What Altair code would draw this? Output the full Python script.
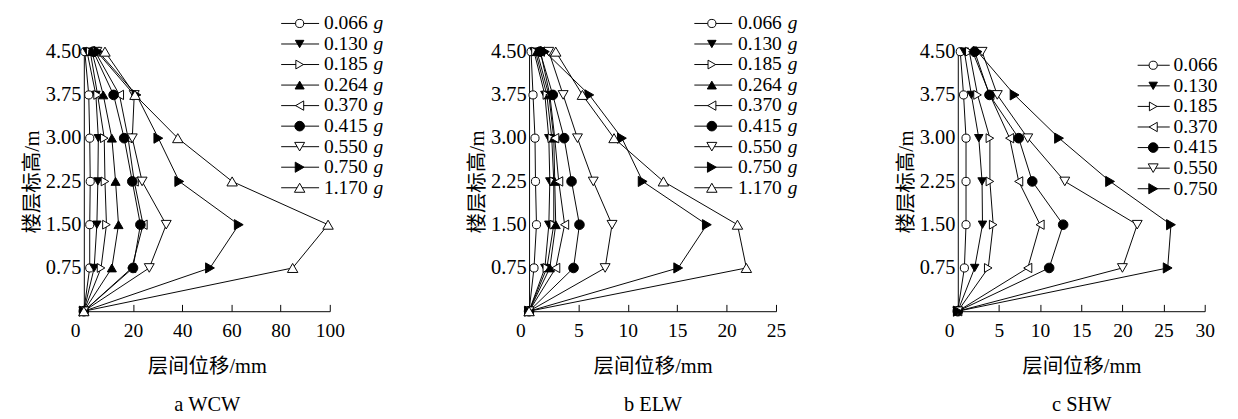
import altair as alt
import pandas as pd

# ---------------- data ----------------
HEIGHTS = [0, 0.75, 1.50, 2.25, 3.00, 3.75, 4.50]

LEVELS_AB = ["0.066", "0.130", "0.185", "0.264", "0.370", "0.415", "0.550", "0.750", "1.170"]
LEVELS_C = ["0.066", "0.130", "0.185", "0.370", "0.415", "0.550", "0.750"]

# displacement (mm) at HEIGHTS, per PGA level
WCW = {
    "0.066": [0, 2.4, 2.4, 2.6, 2.4, 2.0, 0.4],
    "0.130": [0, 4.2, 5.3, 5.7, 5.9, 4.9, 1.3],
    "0.185": [0, 7.0, 9.2, 8.6, 8.3, 5.6, 2.6],
    "0.264": [0, 11.4, 14.1, 12.9, 11.4, 7.9, 3.3],
    "0.370": [0, 19.5, 24.1, 20.5, 18.0, 14.5, 4.6],
    "0.415": [0, 20.0, 23.0, 19.7, 16.4, 12.1, 3.9],
    "0.550": [0, 26.6, 33.5, 23.7, 19.7, 20.5, 5.3],
    "0.750": [0, 51.3, 63.0, 38.8, 30.3, 21.4, 5.9],
    "1.170": [0, 84.9, 99.3, 60.3, 38.2, 20.8, 8.6],
}
ELW = {
    "0.066": [0, 0.5, 0.75, 0.65, 0.6, 0.4, 0.2],
    "0.130": [0, 1.6, 2.0, 2.1, 2.0, 1.6, 0.5],
    "0.185": [0, 1.8, 2.5, 2.5, 2.3, 1.8, 0.65],
    "0.264": [0, 2.1, 2.7, 2.6, 2.5, 2.0, 0.8],
    "0.370": [0, 2.7, 3.6, 3.0, 2.6, 2.1, 1.15],
    "0.415": [0, 4.5, 5.1, 4.3, 3.55, 2.4, 1.1],
    "0.550": [0, 7.7, 8.4, 6.5, 4.9, 3.45, 2.0],
    "0.750": [0, 15.1, 18.0, 11.5, 9.4, 6.1, 1.6],
    "1.170": [0, 22.0, 21.1, 13.6, 8.6, 5.4, 2.7],
}
SHW = {
    "0.066": [0, 0.8, 1.0, 1.0, 1.0, 0.7, 0.3],
    "0.130": [0, 2.05, 3.0, 2.95, 2.55, 1.65, 0.8],
    "0.185": [0, 3.7, 4.3, 3.9, 3.9, 2.4, 1.4],
    "0.370": [0, 8.5, 10.0, 7.4, 6.3, 3.9, 1.8],
    "0.415": [0, 11.1, 12.8, 9.05, 7.4, 3.85, 2.05],
    "0.550": [0, 20.0, 21.8, 13.0, 8.5, 4.8, 2.95],
    "0.750": [0, 25.5, 25.9, 18.5, 12.3, 6.9, 2.4],
}

Y_TICKS = [0.75, 1.50, 2.25, 3.00, 3.75, 4.50]

# ---------------- styles ----------------
SHAPES = {"0.066": "circle", "0.130": "triangle-down", "0.185": "triangle-right",
          "0.264": "triangle-up", "0.370": "triangle-left", "0.415": "circle",
          "0.550": "triangle-down", "0.750": "triangle-right", "1.170": "triangle-up"}
FILLS = {"0.066": "white", "0.130": "black", "0.185": "white", "0.264": "black",
         "0.370": "white", "0.415": "black", "0.550": "white", "0.750": "black",
         "1.170": "white"}
SIZES = {k: (70 if v == "circle" else 115) for k, v in SHAPES.items()}

FONT = "Liberation Serif, Noto Sans CJK SC"
PLOT_H = 267


def long_df(d, levels):
    rows = []
    for lv in levels:
        for h, v in zip(HEIGHTS, d[lv]):
            rows.append({"series": lv, "h": h, "disp": v})
    return pd.DataFrame(rows)


def panel(data, levels, xmax, xstep, caption, plot_w, view_w, leg_range, leg_x, show_g):
    df = long_df(data, levels)
    leg_df = pd.DataFrame({"series": levels, "idx": list(range(len(levels)))})

    shape_enc = alt.Shape("series:N", scale=alt.Scale(domain=levels, range=[SHAPES[l] for l in levels]), legend=None)
    fill_enc = alt.Fill("series:N", scale=alt.Scale(domain=levels, range=[FILLS[l] for l in levels]), legend=None)
    size_enc = alt.Size("series:O", scale=alt.Scale(domain=levels, range=[SIZES[l] for l in levels]), legend=None)

    x_axis = alt.Axis(
        values=list(range(0, xmax + 1, xstep)), labelFlush=False,
        labelFont=FONT, labelFontSize=20, labelColor="black",
        labelAlign={"condition": {"test": "datum.value == 0", "value": "right"}, "value": "center"},
        labelOffset={"condition": {"test": "datum.value == 0", "value": -4}, "value": 0},
        labelPadding=17,
        tickSize=alt.ExprRef(expr="-7"), tickColor="black", tickWidth=1,
        domainColor="black", domainWidth=1, grid=False,
        title=["层间位移/mm", caption], titleFont=FONT, titleFontSize=21,
        titleFontWeight="normal", titleColor="black", titleLineHeight=39,
        titlePadding=16,
    )
    x_enc = alt.X("disp:Q", scale=alt.Scale(domain=[0, xmax], range=[0, plot_w], nice=False), axis=x_axis)
    y_axis = alt.Axis(
        values=Y_TICKS, format=".2f", ticks=False, labelPadding=3,
        labelFont=FONT, labelFontSize=21, labelColor="black",
        domainColor="black", domainWidth=1, grid=False,
        title="楼层标高/m", titleFont=FONT, titleFontSize=21, titleFontWeight="normal",
        titleColor="black", titlePadding=3,
    )
    y_enc = alt.Y("h:Q", scale=alt.Scale(domain=[0, 4.5], nice=False), axis=y_axis)
    y_plain = alt.Y("h:Q", scale=alt.Scale(domain=[0, 4.5], nice=False), axis=None)

    lines = alt.Chart(df).mark_line(color="black", strokeWidth=1).encode(
        x=x_enc, y=y_enc, detail="series:N", order="h:Q")
    pts = alt.Chart(df).mark_point(filled=True, stroke="black", strokeWidth=1, opacity=1).encode(
        x=x_enc, y=y_plain, shape=shape_enc, fill=fill_enc, size=size_enc)

    ly = alt.Y("idx:Q", scale=alt.Scale(domain=[0, len(levels) - 1], range=list(leg_range), nice=False, zero=False), axis=None)
    lx0, lx1, lm, lt = leg_x
    leg_line = alt.Chart(leg_df).mark_rule(color="black", strokeWidth=1).encode(
        x=alt.value(lx0), x2=alt.value(lx1), y=ly)
    leg_pts = alt.Chart(leg_df).mark_point(filled=True, stroke="black", strokeWidth=1, opacity=1).encode(
        x=alt.value(lm), y=ly, shape=shape_enc, fill=fill_enc, size=size_enc)
    leg_txt = alt.Chart(leg_df).mark_text(align="left", baseline="middle", font=FONT, fontSize=20, color="black").encode(
        x=alt.value(lt), y=ly, text="series:N")
    layers = [lines, pts, leg_line, leg_pts, leg_txt]
    if show_g:
        leg_g = alt.Chart(leg_df).mark_text(align="left", baseline="middle", font=FONT, fontSize=20,
                                             fontStyle="italic", color="black").encode(
            x=alt.value(lt + 51), y=ly, text=alt.value("g"))
        layers.append(leg_g)
    return alt.layer(*layers).resolve_scale(y="independent").properties(width=view_w, height=PLOT_H)


pa = panel(WCW, LEVELS_AB, 100, 20, "a WCW", 253, 438, (-29, 140), (203, 242, 222, 247), True)
pb = panel(ELW, LEVELS_AB, 25, 5, "b ELW", 254, 421, (-29, 140), (170, 209, 188, 215), True)
pc = panel(SHW, LEVELS_C, 30, 5, "c SHW", 254, 280, (14, 141), (185, 218, 201, 222), False)

chart = alt.hconcat(pa, pb, pc, spacing=20, bounds="flush").properties(
    padding={"left": 14, "top": 0, "right": 0, "bottom": 0},
    background="white",
).configure_view(stroke=None)

chart.save("out.html", embed_options={"renderer": "svg", "actions": False})
